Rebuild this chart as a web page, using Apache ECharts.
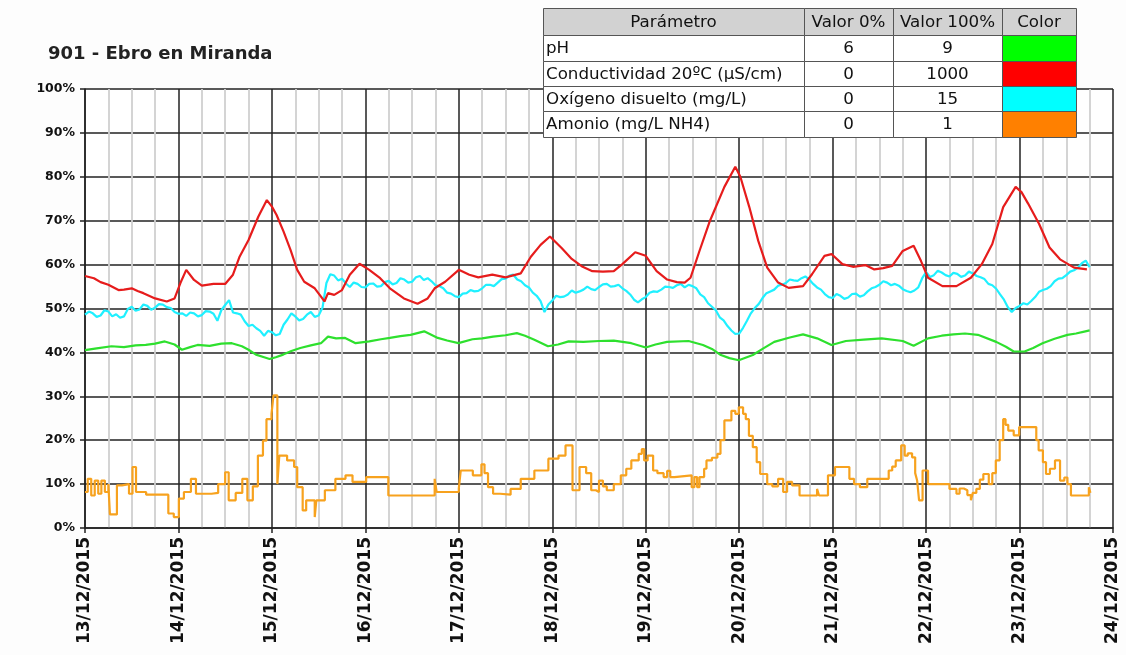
<!DOCTYPE html>
<html>
<head>
<meta charset="utf-8">
<title>901 - Ebro en Miranda</title>
<script src="https://cdn.jsdelivr.net/npm/echarts@6/dist/echarts.min.js"></script>
<style>
  html, body { margin: 0; padding: 0; background: #fdfdfd; }
  #chart { width: 1126px; height: 655px; }
</style>
</head>
<body>
<div id="chart"></div>
<script>
// eje X: horas desde el 13/12/2015 00:00, una etiqueta por día
const dateLabels = ['13/12/2015', '14/12/2015', '15/12/2015', '16/12/2015', '17/12/2015', '18/12/2015',
  '19/12/2015', '20/12/2015', '21/12/2015', '22/12/2015', '23/12/2015', '24/12/2015'];

// tabla de parámetros
const tableHeader = ['Parámetro', 'Valor 0%', 'Valor 100%', 'Color'];
const paramNames = ['pH', 'Conductividad 20ºC (µS/cm)', 'Oxígeno disuelto (mg/L)', 'Amonio (mg/L NH4)'];
const paramMin = ['6', '0', '0', '0'];
const paramMax = ['9', '1000', '15', '1'];
const paramColors = ['#00ff00', '#ff0000', '#00ffff', '#ff8000'];

// pH (% de escala)
const phHours = [0, 3, 6.8, 10, 13, 15.6, 18, 20.5, 23, 24.9,
  27, 28.9, 32, 35, 37.7, 40.3, 42, 43.9, 46, 47.4,
  49, 50.9, 53, 55.3, 58, 60.6, 62.4, 64.5, 66.8, 69.5,
  71, 73, 76, 78.3, 81, 83.6, 87.1, 90.6, 93, 95.9,
  99.5, 102, 104.8, 108, 110.9, 113, 115.4, 118.9, 121.5, 124.2,
  128, 132, 135.8, 140.3, 144, 146.5, 149.5, 155, 158.7, 161,
  163.3, 165.5, 167.9, 171.5, 174, 177, 181, 184.4, 188, 191.7,
  195.4, 200, 204.6, 210, 212.8, 216.5, 220, 223, 226, 229.3,
  234, 236.5, 238.5, 241.3, 243.5, 245.9, 249, 252.3, 254.5, 256.9,
  258];
const phValues = [40.5, 40.9, 41.4, 41.2, 41.6, 41.7, 42.0, 42.5, 41.8, 40.6,
  41.2, 41.7, 41.5, 42.0, 42.1, 41.4, 40.6, 39.5, 38.9, 38.5,
  38.9, 39.5, 40.3, 41.0, 41.6, 42.1, 43.6, 43.2, 43.3, 42.1,
  42.3, 42.5, 43.0, 43.3, 43.7, 44.0, 44.8, 43.3, 42.7, 42.1,
  43.0, 43.2, 43.6, 43.9, 44.4, 43.8, 42.9, 41.4, 41.8, 42.5,
  42.4, 42.6, 42.7, 42.1, 41.1, 41.8, 42.4, 42.6, 41.7, 40.8,
  39.4, 38.7, 38.2, 39.4, 40.8, 42.4, 43.4, 44.1, 43.2, 41.7,
  42.6, 42.9, 43.2, 42.6, 41.5, 43.2, 43.8, 44.1, 44.3, 44.0,
  42.4, 41.3, 40.2, 40.2, 41.0, 42.1, 43.1, 44.0, 44.3, 44.8,
  45.0];

// conductividad
const condHours = [0, 2.3, 4, 6, 8.6, 10, 12, 13.5, 15, 18,
  21, 23, 24.5, 26, 28, 30, 33, 36, 38, 39.7,
  42, 44.5, 46.7, 48, 49.2, 51, 52.8, 54.5, 56.3, 59,
  60.6, 61.5, 62.4, 64, 66, 68, 70.5, 73, 75.8, 78.3,
  81.9, 85.4, 88, 89.8, 92.5, 96, 98.7, 101, 104.6, 108,
  111.9, 114.5, 117, 119.4, 122.4, 125, 127.8, 130.3, 133, 135.8,
  138, 141.3, 144, 146.8, 149.5, 152, 154, 155.5, 157.8, 160.5,
  164.2, 167, 168.3, 170.6, 172.9, 175.2, 178, 180.7, 184.4, 186.7,
  189.9, 191.7, 194.5, 197.2, 200.4, 202.7, 205, 207.3, 210, 212.8,
  214.7, 216.5, 220.2, 223.8, 227.5, 230.3, 233, 235.8, 239, 240.5,
  242.2, 245, 247.7, 250.4, 254, 257.3];
const condValues = [57.4, 56.9, 56.0, 55.4, 54.2, 54.3, 54.6, 54.0, 53.5, 52.3,
  51.6, 52.3, 55.8, 58.8, 56.5, 55.2, 55.6, 55.6, 57.7, 61.8,
  65.6, 70.9, 74.7, 73.2, 71.3, 67.5, 63.3, 58.8, 56.1, 54.6,
  52.7, 51.6, 53.5, 53.1, 54.2, 57.7, 60.2, 58.8, 56.9, 54.6,
  52.3, 51.1, 52.3, 54.6, 56.1, 58.8, 57.7, 57.1, 57.7, 57.1,
  58.0, 61.8, 64.5, 66.4, 63.8, 61.3, 59.5, 58.5, 58.4, 58.5,
  60.1, 62.8, 62.0, 58.5, 56.6, 56.0, 55.9, 57.0, 63.1, 70.0,
  77.7, 82.3, 80.0, 73.1, 65.4, 59.3, 55.9, 54.7, 55.1, 57.8,
  62.0, 62.4, 60.1, 59.5, 59.9, 58.9, 59.2, 59.7, 63.1, 64.3,
  60.8, 57.0, 55.1, 55.1, 57.0, 60.1, 64.7, 73.1, 77.7, 76.5,
  73.9, 69.3, 63.9, 61.2, 59.3, 58.9];

// oxígeno disuelto, una lectura por hora
const oxyStepHours = 1;
const oxyValues = [
  48.6, 49.3, 48.9, 48.1, 48.4, 49.6, 49.3, 48.2, 48.7, 47.9, 48.2, 49.9, 50.4, 49.5, 49.8, 50.9, 50.6, 49.7, 50.2, 51.0,
  50.9, 50.3, 50.1, 49.2, 48.8, 48.9, 48.3, 49.1, 48.9, 48.2, 48.5, 49.4, 49.3, 48.8, 47.2, 49.6, 50.8, 51.9, 49.1, 48.9,
  48.6, 47.1, 46.0, 46.3, 45.5, 44.9, 43.8, 44.9, 44.6, 43.9, 44.2, 46.3, 47.5, 48.9, 48.2, 47.3, 47.6, 48.6, 49.2, 48.1,
  48.4, 50.2, 55.8, 57.8, 57.5, 56.4, 56.8, 55.7, 54.9, 55.9, 55.6, 54.9, 54.8, 55.6, 55.7, 55.0, 55.1, 56.0, 56.3, 55.5,
  55.8, 56.9, 56.6, 55.9, 56.1, 57.1, 57.4, 56.5, 56.9, 56.2, 55.3, 55.1, 54.6, 53.6, 53.4, 52.8, 52.6, 53.4, 53.5, 54.2,
  53.9, 54.0, 54.6, 55.4, 55.4, 55.1, 55.9, 56.7, 56.8, 57.5, 57.7, 56.6, 56.2, 55.3, 54.8, 53.6, 52.9, 51.7, 49.2, 50.9,
  51.8, 52.9, 52.6, 52.7, 53.2, 54.1, 53.6, 53.9, 54.3, 55.0, 54.4, 54.2, 54.9, 55.5, 55.6, 55.0, 55.1, 55.4, 54.6, 54.0,
  53.2, 52.0, 51.4, 52.1, 52.6, 53.6, 53.9, 53.8, 54.3, 55.0, 54.9, 54.7, 55.3, 55.6, 54.8, 55.4, 55.1, 54.6, 53.2, 52.6,
  51.2, 50.4, 49.6, 48.0, 47.3, 46.0, 45.0, 44.2, 44.3, 45.6, 47.2, 48.9, 50.1, 51.0, 52.4, 53.5, 53.9, 54.3, 55.2, 55.4,
  55.8, 56.6, 56.4, 56.3, 56.9, 57.3, 56.6, 55.6, 54.8, 54.3, 53.3, 52.6, 52.4, 53.3, 52.9, 52.2, 52.5, 53.3, 53.4, 52.7,
  53.0, 53.9, 54.6, 54.9, 55.4, 56.2, 55.9, 55.3, 55.6, 55.2, 54.4, 54.0, 53.7, 54.1, 54.8, 56.9, 58.3, 57.2, 57.6, 58.6,
  58.2, 57.6, 57.3, 58.1, 57.9, 57.2, 57.5, 58.4, 58.0, 57.4, 57.1, 56.7, 55.6, 55.3, 54.5, 53.2, 52.0, 50.3, 49.2, 50.1,
  50.6, 51.2, 50.9, 51.7, 52.6, 53.8, 54.2, 54.5, 55.1, 56.2, 56.8, 56.9, 57.6, 58.4, 58.7, 59.3, 60.3, 60.9, 59.4];

// amonio (escalonado)
const nh4Hours = [0, 0.7, 1.6, 2.5, 3.4, 4.2, 5.1, 6, 6.4, 8.2,
  9.5, 11.3, 12.2, 13.1, 15.7, 21.4, 22.8, 24.1, 25.4, 27.2,
  28.5, 32.5, 34.2, 36, 36.9, 38.7, 40.4, 41.7, 43.1, 44.4,
  45.7, 46.6, 47.9, 48.4, 49.4, 49.9, 51.9, 53.7, 54.5, 55.9,
  56.8, 59, 59.4, 61.6, 64.3, 66.9, 68.7, 72.2, 77.9, 89.8,
  90.3, 96, 96.5, 99.6, 101.8, 102.6, 103.5, 104.8, 106.6, 109.3,
  111.9, 115.4, 119, 121.6, 123.4, 125.2, 127, 128.7, 130, 131.2,
  132, 133, 134, 135.8, 137.6, 139, 140.3, 142.2, 143, 143.6,
  144.5, 145.9, 147, 148.6, 149.5, 150.3, 151.4, 155.8, 156.5, 157.2,
  157.8, 159, 159.6, 161, 162.4, 163.2, 164.2, 166, 167, 167.9,
  169, 169.7, 170.5, 171.5, 172.5, 173.4, 175.2, 176.5, 178, 179.3,
  180.3, 181.6, 183.5, 188, 188.5, 190.8, 192.6, 196.3, 197.5, 199,
  200.9, 206.4, 207.3, 208.2, 209.6, 210.5, 211.3, 212.4, 213.2, 213.7,
  214.2, 215.1, 216.5, 222, 223.8, 224.6, 225.7, 226.6, 227.5, 228,
  228.9, 229.8, 230.7, 232.1, 233, 233.9, 234.9, 235.8, 236.4, 237.1,
  238.5, 239.9, 244.3, 244.9, 246, 246.8, 247.8, 249.1, 250.4, 251.5,
  252.3, 253.2, 257.8, 258.2];
const nh4Values = [8.2, 11.2, 7.4, 10.8, 7.8, 10.8, 8.2, 10, 3.1, 9.7,
  10, 7.8, 13.9, 8.2, 7.6, 3.3, 2.5, 6.7, 8.2, 11.2,
  7.8, 8, 10, 12.7, 6.3, 8, 11.2, 6.3, 9.5, 16.5,
  19.9, 24.8, 26, 30.2, 10, 16.5, 15.4, 13.9, 9.3, 4,
  6.3, 2.5, 6.3, 8.6, 11.2, 12, 10.5, 11.6, 7.4, 11.2,
  8.2, 9, 13.1, 12, 14.5, 12.5, 9.3, 7.8, 7.6, 8.9,
  11.2, 13.1, 15.8, 16.5, 18.8, 8.6, 13.9, 12.5, 8.6, 8.2,
  10.8, 9.5, 8.6, 10, 12, 13.5, 15.4, 16.9, 18, 15.4,
  16.5, 13.1, 12.5, 11.6, 13, 11.6, 12, 9.3, 11.6, 9.3,
  11.6, 13.5, 15.4, 16, 16.9, 20, 24.5, 26.7, 26, 27.5,
  26, 24.8, 21, 18.4, 15, 12.3, 10, 9.5, 11.2, 8.2,
  10.5, 9.7, 7.4, 8.9, 7.4, 12, 13.9, 11.2, 10, 9.3,
  11.2, 13.1, 14, 15.4, 18.8, 16.5, 17, 16.1, 12.5, 10.8,
  6.3, 13.1, 10, 8.9, 7.8, 9, 8.6, 7.5, 6.3, 8,
  8.9, 11, 12.3, 10, 12.5, 15.4, 20, 24.8, 23.5, 22.2,
  21.1, 23, 20, 17.7, 15, 12.3, 13.5, 15.4, 10.8, 11.5,
  10, 7.4, 9.3, 8];

function zip(hours, values) {
  return values.map((v, i) => [hours[i], v]);
}

// tabla dibujada con graphic, por encima de la rejilla
function buildTable() {
  const cols = [543, 804, 893, 1002, 1076];
  const rows = [8, 35, 61, 86, 111, 137];
  const font = '16.7px "DejaVu Sans"';
  const els = [];
  const cell = (c, r, fill) => ({
    type: 'rect',
    z: 100,
    shape: { x: cols[c] + 0.5, y: rows[r] + 0.5, width: cols[c + 1] - cols[c], height: rows[r + 1] - rows[r] },
    style: { fill: fill, stroke: '#555', lineWidth: 1 }
  });
  const text = (str, x, y, align) => ({
    type: 'text',
    z: 101,
    x: x,
    y: y,
    style: { text: str, font: font, fill: '#111', align: align, verticalAlign: 'middle' }
  });
  for (let c = 0; c < 4; c++) {
    els.push(cell(c, 0, '#d2d2d2'));
    els.push(text(tableHeader[c], (cols[c] + cols[c + 1]) / 2, (rows[0] + rows[1]) / 2 + 1, 'center'));
  }
  for (let r = 0; r < paramNames.length; r++) {
    const cy = (rows[r + 1] + rows[r + 2]) / 2 + 1;
    els.push(cell(0, r + 1, '#fff'));
    els.push(cell(1, r + 1, '#fff'));
    els.push(cell(2, r + 1, '#fff'));
    els.push(cell(3, r + 1, paramColors[r]));
    els.push(text(paramNames[r], cols[0] + 3, cy, 'left'));
    els.push(text(paramMin[r], (cols[1] + cols[2]) / 2, cy, 'center'));
    els.push(text(paramMax[r], (cols[2] + cols[3]) / 2, cy, 'center'));
  }
  return els;
}

const chart = echarts.init(document.getElementById('chart'));
const gridDark = '#222';
const gridLight = '#d0d0d0';
const lineW = 2.2;

chart.setOption({
  animation: false,
  backgroundColor: '#fdfdfd',
  title: {
    text: '901 - Ebro en Miranda',
    left: 43,
    top: 40,
    textStyle: { fontFamily: 'DejaVu Sans', fontSize: 18, fontWeight: 'bold', color: '#222' }
  },
  grid: { left: 85, right: 13, top: 89, bottom: 127, containLabel: false, show: true, backgroundColor: '#fff', borderWidth: 0 },
  xAxis: {
    type: 'value',
    min: 0,
    max: 264,
    interval: 24,
    axisLine: { lineStyle: { color: gridDark, width: 1.5 } },
    axisTick: { show: true, length: 5, lineStyle: { color: gridDark, width: 1.5 } },
    minorTick: { show: false, splitNumber: 4 },
    splitLine: { show: true, lineStyle: { color: gridDark, width: 1.5 } },
    minorSplitLine: { show: true, lineStyle: { color: gridLight, width: 1.8 } },
    axisLabel: {
      rotate: 90,
      margin: 9,
      fontFamily: 'DejaVu Sans',
      fontSize: 17,
      fontWeight: 'bold',
      color: '#111',
      formatter: (v) => dateLabels[Math.round(v / 24)] || ''
    }
  },
  yAxis: {
    type: 'value',
    min: 0,
    max: 100,
    interval: 10,
    axisLine: { show: true, lineStyle: { color: gridDark, width: 1.5 } },
    axisTick: { show: true, length: 5, lineStyle: { color: gridDark, width: 1.5 } },
    splitLine: { show: true, lineStyle: { color: gridDark, width: 1.5 } },
    axisLabel: {
      margin: 10,
      fontFamily: 'DejaVu Sans',
      fontSize: 12.5,
      fontWeight: 'bold',
      color: '#111',
      formatter: '{value}%'
    }
  },
  series: [
    {
      name: paramNames[0],
      type: 'line',
      showSymbol: false,
      data: zip(phHours, phValues),
      lineStyle: { color: '#2ee02e', width: lineW },
      itemStyle: { color: '#2ee02e' }
    },
    {
      name: paramNames[3],
      type: 'line',
      step: 'end',
      showSymbol: false,
      data: zip(nh4Hours, nh4Values),
      lineStyle: { color: '#f7a21e', width: lineW },
      itemStyle: { color: '#f7a21e' }
    },
    {
      name: paramNames[2],
      type: 'line',
      showSymbol: false,
      data: oxyValues.map((v, i) => [i * oxyStepHours, v]),
      lineStyle: { color: '#1ff0ff', width: lineW },
      itemStyle: { color: '#1ff0ff' }
    },
    {
      name: paramNames[1],
      type: 'line',
      showSymbol: false,
      data: zip(condHours, condValues),
      lineStyle: { color: '#e61c1c', width: lineW },
      itemStyle: { color: '#e61c1c' }
    }
  ],
  graphic: buildTable()
});
</script>
</body>
</html>
